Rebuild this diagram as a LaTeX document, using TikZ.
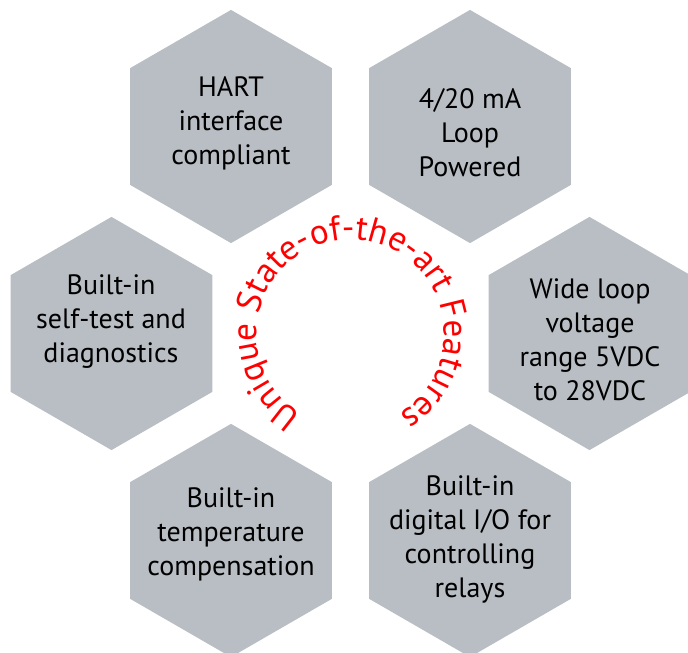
\documentclass[tikz,border=0pt]{standalone}
\usepackage{fontspec}
\setmainfont{PT Sans}
\usetikzlibrary{decorations.text}
\definecolor{hexgray}{RGB}{184,190,196}
\begin{document}
\begin{tikzpicture}[x=1pt,y=1pt,
  hexfill/.style={fill=hexgray},
  feat/.style={align=center,font=\fontsize{28}{34}\selectfont,inner sep=0pt,text=black}]
\useasboundingbox (0,0) rectangle (688,653);
\clip (0,0) rectangle (688,653);
\coordinate (mid) at (350.5,319.5);
\foreach \n/\a in {h1/120,h2/60,h3/180,h4/0,h5/240,h6/300}{
  \path (mid) ++(\a:239) coordinate (\n);
  \fill[hexfill] (\n) ++(90:116.6) -- ++(210:116.6) -- ++(270:116.6) -- ++(330:116.6) -- ++(30:116.6) -- ++(90:116.6) -- cycle;
}
\node[feat] (t1) at (231,529.5) {HART\\interface\\compliant};
\node[feat] (t2) at (470,520.3) {4/20 mA\\Loop\\Powered};
\node[feat] (t3) at (111,331) {Built-in\\self-test and\\diagnostics};
\node[feat] (t4) at (590,313.5) {Wide loop\\voltage\\range 5VDC\\to 28VDC};
\node[feat] (t5) at (231,119) {Built-in\\temperature\\compensation};
\node[feat] (t6) at (470,113.5) {Built-in\\digital I/O for\\controlling\\relays};
\path[decorate,decoration={text along path,text align=center,text color=red,
  text={|\fontsize{35}{35}\selectfont|Unique State-of-the-art Features}}]
  (mid) ++(250:94) arc[start angle=250,end angle=-70,radius=94];
\end{tikzpicture}
\end{document}
